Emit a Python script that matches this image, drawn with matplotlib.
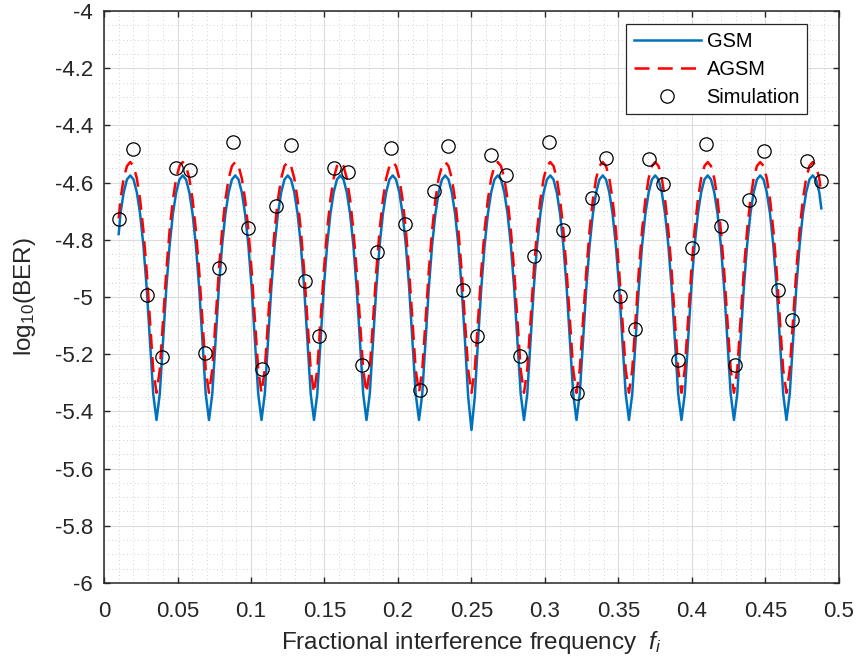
import numpy as np
import matplotlib
matplotlib.use("Agg")
import matplotlib.pyplot as plt
from matplotlib.ticker import MultipleLocator, FormatStrFormatter

plt.rcParams['font.family'] = ['Liberation Sans', 'DejaVu Sans']
plt.rcParams['mathtext.fontset'] = 'custom'
plt.rcParams['mathtext.rm'] = 'Liberation Sans'
plt.rcParams['mathtext.it'] = 'Liberation Sans:italic'
plt.rcParams['axes.unicode_minus'] = False

# analytic curves, sampled on a grid that hits every peak / trough
fi_curve = np.r_[0.01, np.arange(5, 219) / 448, 0.488]

gsm = [
    -4.780,
    -4.709, -4.634, -4.589, -4.575, -4.589, -4.634, -4.709, -4.819, -4.967, -5.151, -5.339,
    -5.430, -5.339, -5.151, -4.967, -4.819, -4.709, -4.634, -4.589, -4.575, -4.589, -4.634, -4.709, -4.819, -4.967, -5.151, -5.339,
    -5.430, -5.339, -5.151, -4.967, -4.819, -4.709, -4.634, -4.589, -4.575, -4.589, -4.634, -4.709, -4.819, -4.967, -5.151, -5.339,
    -5.430, -5.339, -5.151, -4.967, -4.819, -4.709, -4.634, -4.589, -4.575, -4.589, -4.634, -4.709, -4.819, -4.967, -5.151, -5.339,
    -5.430, -5.339, -5.151, -4.967, -4.819, -4.709, -4.634, -4.589, -4.575, -4.589, -4.634, -4.709, -4.819, -4.967, -5.151, -5.339,
    -5.430, -5.339, -5.151, -4.967, -4.819, -4.709, -4.634, -4.589, -4.575, -4.589, -4.634, -4.709, -4.819, -4.967, -5.151, -5.339,
    -5.430, -5.339, -5.151, -4.967, -4.819, -4.709, -4.634, -4.589, -4.575, -4.589, -4.634, -4.709, -4.819, -4.967, -5.151, -5.350,
    -5.465, -5.350, -5.151, -4.967, -4.819, -4.709, -4.634, -4.589, -4.575, -4.589, -4.634, -4.709, -4.819, -4.967, -5.151, -5.339,
    -5.430, -5.339, -5.151, -4.967, -4.819, -4.709, -4.634, -4.589, -4.575, -4.589, -4.634, -4.709, -4.819, -4.967, -5.151, -5.339,
    -5.430, -5.339, -5.151, -4.967, -4.819, -4.709, -4.634, -4.589, -4.575, -4.589, -4.634, -4.709, -4.819, -4.967, -5.151, -5.339,
    -5.430, -5.339, -5.151, -4.967, -4.819, -4.709, -4.634, -4.589, -4.575, -4.589, -4.634, -4.709, -4.819, -4.967, -5.151, -5.339,
    -5.430, -5.339, -5.151, -4.967, -4.819, -4.709, -4.634, -4.589, -4.575, -4.589, -4.634, -4.709, -4.819, -4.967, -5.151, -5.339,
    -5.430, -5.339, -5.151, -4.967, -4.819, -4.709, -4.634, -4.589, -4.575, -4.589, -4.634, -4.709, -4.819, -4.967, -5.151, -5.339,
    -5.430, -5.339, -5.151, -4.967, -4.819, -4.709, -4.634, -4.589, -4.575, -4.589, -4.634,
    -4.690,
]

agsm = [
    -4.725,
    -4.659, -4.585, -4.542, -4.528, -4.542, -4.585, -4.659, -4.766, -4.908, -5.082, -5.254,
    -5.335, -5.254, -5.082, -4.908, -4.766, -4.659, -4.585, -4.542, -4.528, -4.542, -4.585, -4.659, -4.766, -4.908, -5.082, -5.254,
    -5.335, -5.254, -5.082, -4.908, -4.766, -4.659, -4.585, -4.542, -4.528, -4.542, -4.585, -4.659, -4.766, -4.908, -5.082, -5.254,
    -5.335, -5.254, -5.082, -4.908, -4.766, -4.659, -4.585, -4.542, -4.528, -4.542, -4.585, -4.659, -4.766, -4.908, -5.082, -5.254,
    -5.335, -5.254, -5.082, -4.908, -4.766, -4.659, -4.585, -4.542, -4.528, -4.542, -4.585, -4.659, -4.766, -4.908, -5.082, -5.254,
    -5.335, -5.254, -5.082, -4.908, -4.766, -4.659, -4.585, -4.542, -4.528, -4.542, -4.585, -4.659, -4.766, -4.908, -5.082, -5.254,
    -5.335, -5.254, -5.082, -4.908, -4.766, -4.659, -4.585, -4.542, -4.528, -4.542, -4.585, -4.659, -4.766, -4.908, -5.082, -5.254,
    -5.335, -5.254, -5.082, -4.908, -4.766, -4.659, -4.585, -4.542, -4.528, -4.542, -4.585, -4.659, -4.766, -4.908, -5.082, -5.254,
    -5.335, -5.254, -5.082, -4.908, -4.766, -4.659, -4.585, -4.542, -4.528, -4.542, -4.585, -4.659, -4.766, -4.908, -5.082, -5.254,
    -5.335, -5.254, -5.082, -4.908, -4.766, -4.659, -4.585, -4.542, -4.528, -4.542, -4.585, -4.659, -4.766, -4.908, -5.082, -5.254,
    -5.335, -5.254, -5.082, -4.908, -4.766, -4.659, -4.585, -4.542, -4.528, -4.542, -4.585, -4.659, -4.766, -4.908, -5.082, -5.254,
    -5.335, -5.254, -5.082, -4.908, -4.766, -4.659, -4.585, -4.542, -4.528, -4.542, -4.585, -4.659, -4.766, -4.908, -5.082, -5.254,
    -5.335, -5.254, -5.082, -4.908, -4.766, -4.659, -4.585, -4.542, -4.528, -4.542, -4.585, -4.659, -4.766, -4.908, -5.082, -5.254,
    -5.335, -5.254, -5.082, -4.908, -4.766, -4.659, -4.585, -4.542, -4.528, -4.542, -4.585,
    -4.640,
]

# monte carlo points
fi_sim = [
    0.0100, 0.0198, 0.0295, 0.0393, 0.0490, 0.0588, 0.0685, 0.0783, 0.0880, 0.0978,
    0.1075, 0.1173, 0.1270, 0.1368, 0.1465, 0.1563, 0.1660, 0.1758, 0.1855, 0.1953,
    0.2050, 0.2148, 0.2245, 0.2343, 0.2440, 0.2538, 0.2635, 0.2733, 0.2830, 0.2928,
    0.3025, 0.3123, 0.3220, 0.3318, 0.3415, 0.3513, 0.3610, 0.3708, 0.3805, 0.3903,
    0.4000, 0.4098, 0.4195, 0.4293, 0.4390, 0.4488, 0.4585, 0.4683, 0.4780, 0.4878,
]
sim = [
    -4.728, -4.483, -4.992, -5.210, -4.549, -4.557, -5.197, -4.900, -4.459, -4.758,
    -5.251, -4.682, -4.469, -4.944, -5.136, -4.550, -4.563, -5.239, -4.843, -4.479,
    -4.746, -5.326, -4.629, -4.473, -4.976, -5.136, -4.505, -4.573, -5.207, -4.858,
    -4.459, -4.766, -5.337, -4.655, -4.513, -4.997, -5.113, -4.519, -4.606, -5.220,
    -4.830, -4.466, -4.751, -5.237, -4.662, -4.488, -4.974, -5.080, -4.523, -4.594,
]

fig = plt.figure(figsize=(8.56, 6.64), dpi=100)
ax = fig.add_axes([0.1215, 0.122, 0.8586, 0.8614])

ax.plot(fi_curve, gsm, color='#0072BD', lw=1.8, label='GSM', zorder=3)
ax.plot(fi_curve, agsm, color='#FF0000', lw=1.8, dashes=(6, 3.3), label='AGSM', zorder=4)
ax.plot(fi_sim, sim, 'o', mfc='none', mec='black', ms=9.6, mew=0.9,
        label='Simulation', zorder=5)

ax.set_xlim(0, 0.5)
ax.set_ylim(-6, -4)
ax.xaxis.set_major_locator(MultipleLocator(0.05))
ax.xaxis.set_minor_locator(MultipleLocator(0.01))
ax.yaxis.set_major_locator(MultipleLocator(0.2))
ax.yaxis.set_minor_locator(MultipleLocator(0.05))
ax.xaxis.set_major_formatter(FormatStrFormatter('%g'))
ax.yaxis.set_major_formatter(FormatStrFormatter('%g'))

ax.grid(which='major', color='#dcdcdc', lw=0.8, ls='-')
ax.grid(which='minor', color='#c2c2c2', lw=0.6, ls=(0, (1, 3.5)))
ax.set_axisbelow(True)

ax.tick_params(which='major', direction='in', length=4, width=1, top=True, right=True,
               labelsize=16, colors='#262626')
ax.tick_params(axis='x', which='major', pad=13)
ax.tick_params(axis='y', which='major', pad=8)
ax.tick_params(which='minor', length=0, top=True, right=True)
for s in ax.spines.values():
    s.set_color('#262626')
    s.set_linewidth(1.1)

ax.set_xlabel('Fractional interference frequency  $f_i$', fontsize=17.5, color='#262626',
              labelpad=5)
ax.set_ylabel('log$_{10}$(BER)', fontsize=17.5, color='#262626', labelpad=12)

leg = ax.legend(loc='upper right', bbox_to_anchor=(0.957, 0.977), borderaxespad=0,
                fontsize=14.4, handlelength=3.35, handletextpad=0.3, labelspacing=0.45,
                borderpad=0.37, fancybox=False, framealpha=1, edgecolor='#262626')
leg.get_frame().set_linewidth(0.9)

fig.savefig('out.png', dpi=100)
